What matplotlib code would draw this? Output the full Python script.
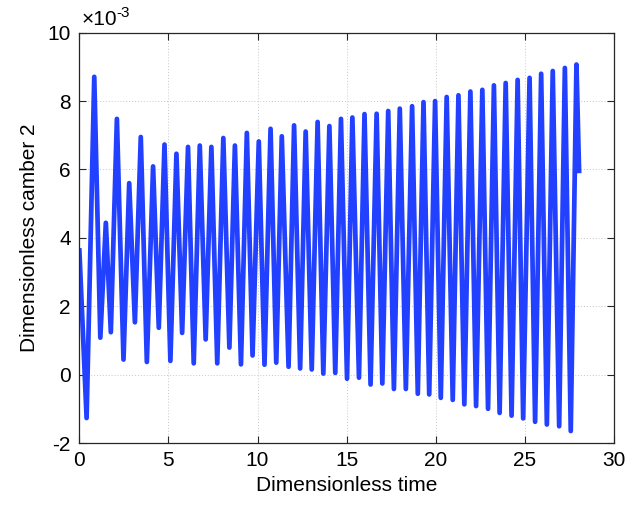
import numpy as np
import matplotlib
matplotlib.use("Agg")
import matplotlib.pyplot as plt

# peaks / troughs (camber in units of 1e-3)
t_ext = [0.00, 0.41, 0.84, 1.18, 1.49, 1.77, 2.11, 2.48, 2.80, 3.12,
         3.45, 3.79, 4.14, 4.46, 4.78, 5.11, 5.45, 5.77, 6.10, 6.42,
         6.76, 7.09, 7.41, 7.74, 8.08, 8.42, 8.73, 9.07, 9.40, 9.72,
         10.07, 10.39, 10.73, 11.05, 11.36, 11.74, 12.05, 12.39, 12.70, 13.04,
         13.37, 13.69, 14.03, 14.36, 14.68, 15.02, 15.32, 15.69, 16.00, 16.34,
         16.68, 17.00, 17.33, 17.65, 17.98, 18.32, 18.67, 18.99, 19.31, 19.63,
         19.96, 20.28, 20.61, 20.95, 21.27, 21.60, 21.94, 22.26, 22.61, 22.93,
         23.26, 23.58, 23.92, 24.25, 24.59, 24.90, 25.26, 25.57, 25.91, 26.23,
         26.56, 26.92, 27.24, 27.57, 27.89, 28.04]
camber = [3.70, -1.27, 8.71, 1.08, 4.44, 1.24, 7.48, 0.44, 5.60, 1.53,
          6.95, 0.37, 6.09, 1.37, 6.73, 0.40, 6.46, 1.22, 6.66, 0.33,
          6.70, 1.03, 6.66, 0.33, 6.92, 0.79, 6.70, 0.30, 7.07, 0.56,
          6.82, 0.29, 7.19, 0.35, 6.97, 0.23, 7.29, 0.18, 7.11, 0.15,
          7.39, 0.03, 7.27, 0.05, 7.48, -0.12, 7.52, -0.09, 7.62, -0.29,
          7.63, -0.26, 7.71, -0.42, 7.78, -0.42, 7.85, -0.56, 7.97, -0.58,
          8.00, -0.68, 8.12, -0.74, 8.17, -0.87, 8.28, -0.92, 8.33, -1.00,
          8.46, -1.12, 8.53, -1.20, 8.62, -1.28, 8.68, -1.38, 8.80, -1.46,
          8.88, -1.51, 8.97, -1.65, 9.07, 5.89]

xticks = [0, 5, 10, 15, 20, 25, 30]
yticks = [-2, 0, 2, 4, 6, 8, 10]

plt.rcParams["font.family"] = ["Liberation Sans", "DejaVu Sans"]
plt.rcParams["axes.unicode_minus"] = False

fig = plt.figure(figsize=(6.43, 5.15), dpi=100)
ax = fig.add_axes([0.1233, 0.1398, 0.955 - 0.1233, 0.9365 - 0.1398])

ax.plot(t_ext, camber, color="#2140FF", lw=3.4, solid_joinstyle="round", solid_capstyle="butt")

ax.set_xlim(0, 30)
ax.set_ylim(-2, 10)
ax.set_xticks(xticks)
ax.set_yticks(yticks)
ax.grid(True, linestyle=(0, (1, 2)), color="#c8c8c8", lw=0.7)
ax.set_axisbelow(True)
ax.tick_params(direction="in", top=True, right=True, length=5, width=0.8,
               labelsize=15, colors="#262626", labelcolor="black", pad=6)
for s in ax.spines.values():
    s.set_color("#262626")
    s.set_linewidth(0.9)

ax.set_xlabel("Dimensionless time", fontsize=15, labelpad=4)
ax.set_ylabel("Dimensionless camber 2", fontsize=15, labelpad=6)
# MATLAB-style exponent label
ax.text(0.004, 1.008, "\u00d710", transform=ax.transAxes, fontsize=15,
        ha="left", va="bottom")
ax.text(0.070, 1.032, "-3", transform=ax.transAxes, fontsize=11,
        ha="left", va="bottom")

fig.savefig("out.png", dpi=100)
